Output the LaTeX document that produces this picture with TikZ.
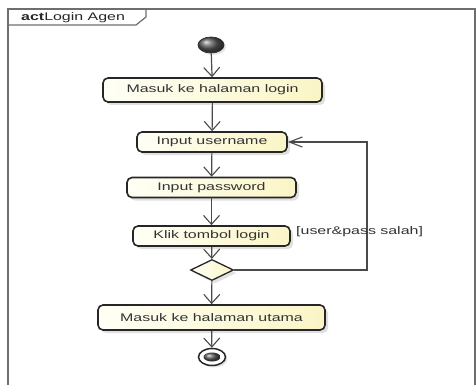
\documentclass[tikz,border=0pt]{standalone}
\usepackage{fontspec}
\usepackage{graphicx}
\setmainfont{Liberation Sans}
\usetikzlibrary{arrows.meta,shapes.geometric,shadows}

\definecolor{framegray}{HTML}{6E6E6E}
\definecolor{linegray}{HTML}{4A4A4A}
\definecolor{txtgray}{HTML}{333333}
\definecolor{boxleft}{HTML}{FFFFF6}
\definecolor{boxright}{HTML}{FAF5C6}

% horizontally widened label text
\newcommand\widetext[1]{\scalebox{1.45}[1]{#1}}

\tikzset{
  actbox/.style={draw=black!85, line width=1.6pt, rounded corners=5pt,
    left color=boxleft, right color=boxright, inner sep=0pt,
    font=\fontsize{11}{13}\selectfont, text=txtgray,
    drop shadow={shadow xshift=3pt, shadow yshift=-3pt, fill=gray!45, opacity=.55}},
  flow/.style={draw=linegray, line width=1.2pt,
    -{Straight Barb[length=9pt,width=16pt,line width=1.1pt]}},
  flowh/.style={draw=linegray, line width=1.2pt,
    -{Straight Barb[length=13pt,width=10pt,line width=1.1pt]}},
}

\begin{document}
\begin{tikzpicture}[x=1pt, y=-1pt]
  \useasboundingbox (0,0) rectangle (476,385);

  % diagram frame with name tab
  \draw[framegray, line width=1.2pt] (8,386) -- (8,9) -- (475,9) -- (475,386);
  \draw[framegray, line width=1.2pt] (8,25) -- (136,25) -- (146,17) -- (146,9);
  \node[anchor=west, inner sep=0pt, text=black!85,
        font=\fontsize{11}{13}\selectfont] (title) at (21,17.5)
        {\widetext{\textbf{act}Login Agen}};

  % initial node
  \node[ellipse, minimum width=26pt, minimum height=16pt, inner sep=0pt,
        draw=black!80, line width=0.8pt, ball color=black!65,
        drop shadow={shadow xshift=2pt, shadow yshift=-2pt, fill=gray!40, opacity=.5}]
        (start) at (211,45) {};

  % actions
  \node[actbox, minimum width=219pt, minimum height=24pt] (b1) at (212.5,90)
        {\widetext{Masuk ke halaman login}};
  \node[actbox, minimum width=150pt, minimum height=20pt] (b2) at (212,142)
        {\widetext{Input username}};
  \node[actbox, minimum width=169pt, minimum height=20pt] (b3) at (211.5,187.5)
        {\widetext{Input password}};
  \node[actbox, minimum width=157pt, minimum height=20pt] (b4) at (211.5,236)
        {\widetext{Klik tombol login}};

  % decision
  \node[diamond, minimum width=43pt, minimum height=21pt, inner sep=0pt, aspect=2,
        draw=black!85, line width=1.3pt, left color=boxleft, right color=boxright,
        drop shadow={shadow xshift=3pt, shadow yshift=-3pt, fill=gray!45, opacity=.5}]
        (d) at (212,270) {};

  \node[actbox, minimum width=227pt, minimum height=25pt] (b5) at (211.5,317.5)
        {\widetext{Masuk ke halaman utama}};

  % final node
  \node[ellipse, minimum width=27pt, minimum height=17pt, inner sep=0pt,
        draw=black!85, line width=1.5pt, fill=white,
        drop shadow={shadow xshift=2pt, shadow yshift=-2pt, fill=gray!40, opacity=.5}]
        (end) at (212,357) {};
  \node[ellipse, minimum width=17pt, minimum height=9pt, inner sep=0pt,
        ball color=black!65] (endin) at (212,357) {};

  % control flow
  \draw[flow] (start) -- (b1);
  \draw[flow] (b1) -- (b2);
  \draw[flow] (b2) -- (b3);
  \draw[flow] (b3) -- (b4);
  \draw[flow] (b4) -- (d);
  \draw[flow] (d) -- (b5);
  \draw[flow] (b5) -- (end);

  % retry loop
  \coordinate (lb) at (367,270);
  \coordinate (lt) at (367,142);
  \draw[flowh] (d.east) -- (lb) -- (lt) -- (b2.east);
  \node[anchor=west, inner sep=0pt, text=txtgray,
        font=\fontsize{11}{13}\selectfont] (guard) at (296,232)
        {\widetext{[user\&pass salah]}};
\end{tikzpicture}
\end{document}
